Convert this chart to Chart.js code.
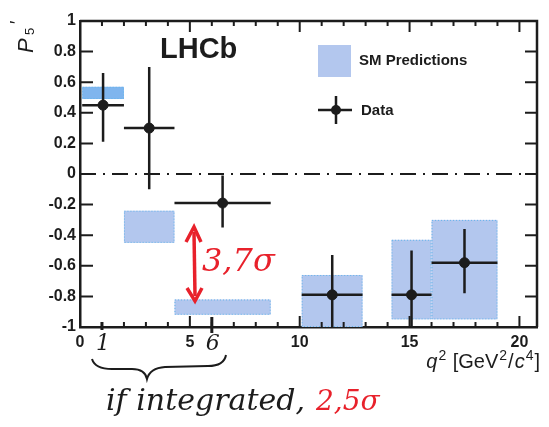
<!DOCTYPE html>
<html>
<head>
<meta charset="utf-8">
<script src="https://cdn.jsdelivr.net/npm/chart.js@4.4.1/dist/chart.umd.min.js"></script>
<style>
  body { margin: 0; background: #fff; }
</style>
</head>
<body>
<canvas id="chart" width="549" height="427"></canvas>
<script>
// tick labels
const xTicks = [0, 5, 10, 15, 20]
const yTicks = [1, 0.8, 0.6, 0.4, 0.2, 0, -0.2, -0.4, -0.6, -0.8, -1]

// q2 bins
const binLow = [0.1, 2.0, 4.3, 10.09, 14.18, 16.0]
const binHigh = [2.0, 4.3, 8.68, 12.86, 16.0, 19.0]

// LHCb data
const dataX = [1.05, 3.15, 6.49, 11.48, 15.09, 17.5]
const dataY = [0.45, 0.30, -0.19, -0.79, -0.79, -0.58]
const errUp = [0.21, 0.40, 0.18, 0.26, 0.29, 0.22]
const errDown = [0.24, 0.40, 0.16, 0.30, 0.30, 0.20]

// SM predictions (bands)
const smTop = [0.57, -0.24, -0.82, -0.66, -0.43, -0.30]
const smBottom = [0.49, -0.45, -0.92, -1.0, -0.95, -0.95]

const boxFill = '#b3c7ee'
const boxFillFirst = '#7fb5ee'
const boxEdge = '#63b4ea'
const ink = '#1c1c1c'
const red = '#e8212b'

const plotDecor = {
  id: 'plotDecor',
  beforeDatasetsDraw(chart) {
    const { ctx, chartArea: a, scales: { x, y } } = chart
    ctx.save()
    ctx.beginPath()
    ctx.rect(a.left, a.top, a.right - a.left, a.bottom - a.top)
    ctx.clip()

    // SM boxes
    for (let i = 0; i < smTop.length; i++) {
      const x0 = x.getPixelForValue(binLow[i])
      const x1 = x.getPixelForValue(binHigh[i])
      const y0 = y.getPixelForValue(smTop[i])
      const y1 = y.getPixelForValue(smBottom[i])
      ctx.fillStyle = i === 0 ? boxFillFirst : boxFill
      ctx.fillRect(x0, y0, x1 - x0, y1 - y0)
      ctx.strokeStyle = boxEdge
      ctx.lineWidth = 1
      ctx.setLineDash([1, 2])
      ctx.strokeRect(x0 + 0.5, y0 + 0.5, x1 - x0 - 1, y1 - y0 - 1)
    }

    // zero line
    ctx.setLineDash([16, 7, 2, 7])
    ctx.strokeStyle = ink
    ctx.lineWidth = 2
    ctx.beginPath()
    ctx.moveTo(a.left, y.getPixelForValue(0))
    ctx.lineTo(a.right, y.getPixelForValue(0))
    ctx.stroke()
    ctx.setLineDash([])

    // error bars
    ctx.lineWidth = 2.5
    for (let i = 0; i < dataX.length; i++) {
      const px = x.getPixelForValue(dataX[i])
      const py = y.getPixelForValue(dataY[i])
      ctx.beginPath()
      ctx.moveTo(x.getPixelForValue(binLow[i]), py)
      ctx.lineTo(x.getPixelForValue(binHigh[i]), py)
      ctx.moveTo(px, y.getPixelForValue(dataY[i] + errUp[i]))
      ctx.lineTo(px, y.getPixelForValue(dataY[i] - errDown[i]))
      ctx.stroke()
    }
    ctx.restore()
  },
  afterDraw(chart) {
    const { ctx, chartArea: a, scales: { x, y } } = chart
    ctx.save()
    ctx.strokeStyle = ink
    ctx.fillStyle = ink

    // frame top + right
    ctx.lineWidth = 2.5
    ctx.beginPath()
    ctx.moveTo(a.left, a.top)
    ctx.lineTo(a.right, a.top)
    ctx.lineTo(a.right, a.bottom)
    ctx.stroke()

    // inward ticks
    ctx.lineWidth = 2
    ctx.beginPath()
    for (let v = 0; v <= 20; v++) {
      const px = x.getPixelForValue(v)
      const len = v % 5 === 0 ? 11 : 5
      ctx.moveTo(px, a.bottom)
      ctx.lineTo(px, a.bottom - len)
      ctx.moveTo(px, a.top)
      ctx.lineTo(px, a.top + len)
    }
    yTicks.forEach(v => {
      const py = y.getPixelForValue(v)
      ctx.moveTo(a.left, py)
      ctx.lineTo(a.left + 13, py)
      ctx.moveTo(a.right, py)
      ctx.lineTo(a.right - 12, py)
    })
    ctx.stroke()

    // LHCb label
    ctx.font = 'bold 29px "Liberation Sans"'
    ctx.textBaseline = 'alphabetic'
    ctx.textAlign = 'left'
    ctx.fillText('LHCb', 160, 58)

    // legend
    ctx.fillStyle = boxFill
    ctx.fillRect(318, 45, 33, 32)
    ctx.fillStyle = ink
    ctx.font = 'bold 15px "Liberation Sans"'
    ctx.textBaseline = 'middle'
    ctx.fillText('SM Predictions', 359, 61)
    ctx.fillText('Data', 361, 111)
    ctx.lineWidth = 2.5
    ctx.beginPath()
    ctx.moveTo(318, 110)
    ctx.lineTo(352, 110)
    ctx.moveTo(336, 96)
    ctx.lineTo(336, 124)
    ctx.stroke()
    ctx.beginPath()
    ctx.arc(336, 110, 5, 0, Math.PI * 2)
    ctx.fill()

    // y title P5'
    ctx.save()
    ctx.translate(33, 53)
    ctx.rotate(-Math.PI / 2)
    ctx.textBaseline = 'alphabetic'
    ctx.font = 'italic 22px "Liberation Sans"'
    ctx.fillText('P', 0, 0)
    ctx.font = '13px "Liberation Sans"'
    ctx.fillText('5', 18, 1)
    ctx.font = '18px "Liberation Sans"'
    ctx.fillText('\u2032', 29, -10)
    ctx.restore()

    // x title q2 [GeV2/c4]
    const parts = [
      ['q', 'italic 20px "Liberation Sans"', 0],
      ['2', '14px "Liberation Sans"', -8],
      [' [GeV', '20px "Liberation Sans"', 0],
      ['2', '14px "Liberation Sans"', -8],
      ['/', '20px "Liberation Sans"', 0],
      ['c', 'italic 20px "Liberation Sans"', 0],
      ['4', '14px "Liberation Sans"', -8],
      [']', '20px "Liberation Sans"', 0]
    ]
    let total = 0
    parts.forEach(p => { ctx.font = p[1]; total += ctx.measureText(p[0]).width + 1 })
    let cx = 541 - total
    ctx.textBaseline = 'alphabetic'
    parts.forEach(p => {
      ctx.font = p[1]
      ctx.fillText(p[0], cx, 368 + p[2])
      cx += ctx.measureText(p[0]).width + 1
    })

    // handwritten notes
    ctx.lineWidth = 3
    ctx.beginPath()
    ctx.moveTo(x.getPixelForValue(1), a.bottom - 5)
    ctx.lineTo(x.getPixelForValue(1), a.bottom + 3)
    ctx.moveTo(x.getPixelForValue(6), a.bottom - 10)
    ctx.lineTo(x.getPixelForValue(6), a.bottom + 6)
    ctx.stroke()
    ctx.font = 'italic 22px "DejaVu Serif"'
    ctx.textAlign = 'center'
    ctx.fillText('1', x.getPixelForValue(1) + 1, 350)
    ctx.fillText('6', x.getPixelForValue(6) + 1, 350)

    // brace
    ctx.lineWidth = 2
    ctx.beginPath()
    ctx.moveTo(92, 359)
    ctx.quadraticCurveTo(95, 369, 112, 369)
    ctx.lineTo(132, 369)
    ctx.quadraticCurveTo(145, 369, 147, 379)
    ctx.quadraticCurveTo(150, 368, 165, 367)
    ctx.lineTo(208, 366)
    ctx.quadraticCurveTo(224, 366, 226, 355)
    ctx.stroke()

    ctx.textAlign = 'left'
    ctx.font = 'italic 30px "DejaVu Serif"'
    ctx.fillText('if integrated,', 106, 410, 200)
    ctx.fillStyle = red
    ctx.font = 'italic 28px "DejaVu Serif"'
    ctx.fillText('2,5\u03c3', 316, 410)
    ctx.font = 'italic 32px "DejaVu Serif"'
    ctx.fillText('3,7\u03c3', 202, 271)

    // red double arrow
    ctx.strokeStyle = red
    ctx.lineWidth = 3.5
    ctx.beginPath()
    ctx.moveTo(194, 232)
    ctx.lineTo(195, 296)
    ctx.stroke()
    ctx.beginPath()
    ctx.moveTo(186, 242)
    ctx.lineTo(194, 227)
    ctx.lineTo(201, 242)
    ctx.moveTo(187, 288)
    ctx.lineTo(195, 301)
    ctx.lineTo(202, 288)
    ctx.stroke()
    ctx.restore()
  }
}

new Chart(document.getElementById('chart'), {
  type: 'scatter',
  data: {
    datasets: [
      {
        label: 'Data',
        data: dataX.map((v, i) => ({ x: v, y: dataY[i] })),
        backgroundColor: ink,
        borderColor: ink,
        pointRadius: 5,
        pointHoverRadius: 5
      }
    ]
  },
  options: {
    responsive: false,
    animation: false,
    devicePixelRatio: 1,
    layout: { padding: { top: 21, right: 12, left: 0, bottom: 0 } },
    plugins: { legend: { display: false }, tooltip: { enabled: false } },
    scales: {
      x: {
        type: 'linear',
        min: 0,
        max: 20.8,
        grid: { display: false, drawTicks: false },
        border: { display: true, color: ink, width: 2.5 },
        afterBuildTicks: s => { s.ticks = xTicks.map(v => ({ value: v })) },
        afterFit: s => { s.height = 100 },
        ticks: {
          color: ink,
          padding: 6,
          maxRotation: 0,
          font: { family: 'Liberation Sans', size: 16, weight: 'bold' }
        }
      },
      y: {
        min: -1,
        max: 1,
        grid: { display: false, drawTicks: false },
        border: { display: true, color: ink, width: 2.5 },
        afterBuildTicks: s => { s.ticks = yTicks.map(v => ({ value: v })) },
        afterFit: s => { s.width = 80 },
        ticks: {
          color: ink,
          padding: 4,
          font: { family: 'Liberation Sans', size: 16, weight: 'bold' },
          callback: v => String(Math.round(v * 10) / 10)
        }
      }
    }
  },
  plugins: [plotDecor]
})
</script>
</body>
</html>
